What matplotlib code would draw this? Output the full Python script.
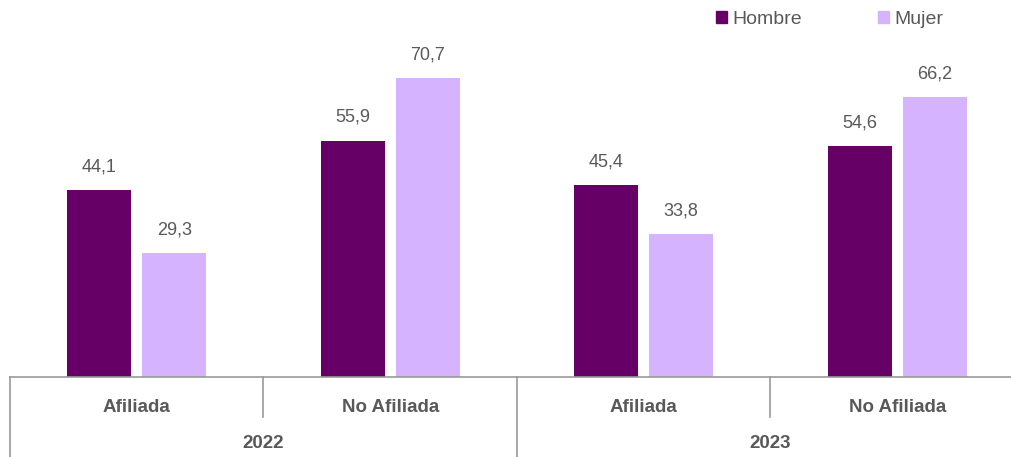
import matplotlib
matplotlib.use("Agg")
import matplotlib.pyplot as plt
from matplotlib.patches import Patch
import numpy as np

plt.rcParams['font.family'] = ['Liberation Sans Narrow', 'Liberation Sans', 'DejaVu Sans']

anios = ["2022", "2023"]
categorias = ["Afiliada", "No Afiliada", "Afiliada", "No Afiliada"]
hombre = [44.1, 55.9, 45.4, 54.6]
mujer = [29.3, 70.7, 33.8, 66.2]

c_hombre = "#660066"
c_mujer = "#D6B3FF"
gris_txt = "#595959"
gris_lin = "#999999"

fig = plt.figure(figsize=(10.12, 4.57), dpi=100)
# eje: 4 categorias de ~253.5 px desde x=10, base en y=377 px
ax = fig.add_axes([10 / 1012, 1 - 377 / 457, 1014 / 1012, 377 / 457])

x = np.arange(len(categorias)) + 0.5
ancho = 0.252
off = 0.148
ax.bar(x - off, hombre, ancho, color=c_hombre, label="Hombre")
ax.bar(x + off, mujer, ancho, color=c_mujer, label="Mujer")

for xi, h, m in zip(x, hombre, mujer):
    ax.text(xi - off, h + 3.5, f"{h:.1f}".replace(".", ","), ha="center", va="bottom",
            fontsize=13, color=gris_txt)
    ax.text(xi + off, m + 3.5, f"{m:.1f}".replace(".", ","), ha="center", va="bottom",
            fontsize=13, color=gris_txt)

ax.set_xlim(0, 4)
ax.set_ylim(0, 377 / 4.23)
for s in ["top", "right", "left"]:
    ax.spines[s].set_visible(False)
ax.spines["bottom"].set_color(gris_lin)
ax.spines["bottom"].set_linewidth(1.2)
ax.set_xticks([])
ax.set_yticks([])

tr = ax.get_xaxis_transform()
for xi, cat in zip(x, categorias):
    ax.text(xi, -30 / 377, cat, transform=tr, ha="center", va="center",
            fontsize=13.5, fontweight="bold", color=gris_txt)
for i, anio in enumerate(anios):
    ax.text(2 * i + 1, -66 / 377, anio, transform=tr, ha="center", va="center",
            fontsize=13.5, fontweight="bold", color=gris_txt)

# separadores
for xs in [1, 3]:
    ax.plot([xs, xs], [0, -40 / 377], transform=tr, color=gris_lin, lw=1.2, clip_on=False)
for xs in [0, 2, 4]:
    ax.plot([xs, xs], [0, -85 / 377], transform=tr, color=gris_lin, lw=1.2, clip_on=False)

handles = [Patch(color=c_hombre, label="Hombre"), Patch(color=c_mujer, label="Mujer")]
leg = fig.legend(handles=handles, loc="upper left", bbox_to_anchor=(716 / 1012, 1 - 11 / 457),
                 ncol=2, frameon=False, fontsize=14, handlelength=0.55, handleheight=0.55,
                 handletextpad=0.3, columnspacing=3.9, borderaxespad=0, borderpad=0)
for t in leg.get_texts():
    t.set_color(gris_txt)

fig.savefig("out.png", dpi=100)
